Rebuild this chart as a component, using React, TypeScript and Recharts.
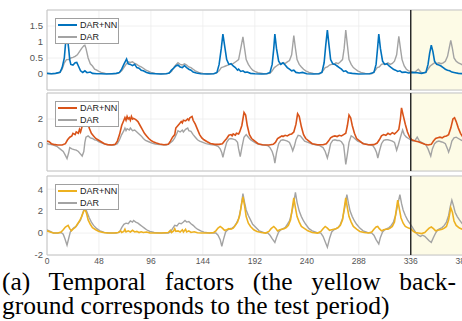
import React from 'react'
import { LineChart, Line, XAxis, YAxis, CartesianGrid, ReferenceLine, ReferenceArea, Legend } from 'recharts'

type Pt = [number, number]

// time axis (half-hour slots, 48 per day)
const timeTicks = [0, 48, 96, 144, 192, 240, 288, 336, 384]
const testStart = 336
const timeEnd = 400
const seriesNames = ['DAR+NN', 'DAR']

// factor 1
const nn1: Pt[] = [
  [0, 0.02], [4, 0.01], [8, 0.02], [12, 0.05], [14, 0.2], [16, 0.5], [17, 0.9], [18.5, 1.25], [20, 0.8], [21, 0.45],
  [22, 0.3], [24, 0.28], [26, 0.35], [27.5, 0.36], [29, 0.25], [31, 0.1], [33, 0.05], [35, 0.1], [37, 0.04], [40, 0.06],
  [42, 0.02], [46, 0.01], [50, 0.01], [55, 0], [60, 0.01], [64, 0.02], [67, 0.05], [69, 0.15], [71, 0.3], [73.5, 0.47],
  [75, 0.32], [77, 0.3], [79, 0.26], [81, 0.3], [83, 0.2], [85, 0.18], [87, 0.12], [89, 0.1], [92, 0.05], [95, 0.02],
  [100, 0.01], [105, 0], [110, 0.01], [113, 0.03], [115, 0.12], [117, 0.18], [119, 0.25], [121, 0.28], [123, 0.22],
  [125, 0.2], [127, 0.26], [129, 0.2], [131, 0.15], [133, 0.12], [135, 0.06], [138, 0.03], [142, 0.01], [148, 0],
  [154, 0.01], [157, 0.05], [159, 0.3], [161, 0.8], [162.5, 1.25], [164, 0.9], [166, 0.45], [168, 0.3], [170, 0.32],
  [172, 0.25], [174, 0.2], [176, 0.12], [177, 0.15], [179, 0.08], [181, 0.1], [183, 0.05], [185, 0.06], [188, 0.02],
  [192, 0.01], [198, 0], [203, 0.01], [206, 0.05], [208, 0.3], [209.5, 0.8], [210.5, 1.25], [212, 0.8], [214, 0.4],
  [216, 0.3], [218, 0.35], [220, 0.28], [222, 0.2], [224, 0.15], [226, 0.1], [228, 0.12], [230, 0.05], [233, 0.03],
  [236, 0.05], [240, 0.01], [246, 0], [251, 0.01], [254, 0.05], [256, 0.35], [257.5, 0.9], [259, 1.37], [260.5, 0.9],
  [262, 0.45], [264, 0.32], [266, 0.3], [268, 0.25], [270, 0.2], [272, 0.15], [274, 0.08], [276, 0.1], [278, 0.04],
  [282, 0.02], [288, 0], [298, 0.01], [302, 0.05], [304, 0.3], [305.5, 0.85], [306.5, 1.25], [308, 0.8], [310, 0.4],
  [312, 0.3], [314, 0.32], [316, 0.25], [318, 0.2], [320, 0.15], [322, 0.12], [324, 0.08], [326, 0.1], [328, 0.05],
  [331, 0.06], [334, 0.03], [338, 0.05], [342, 0.04], [346, 0.02], [350, 0.05], [352, 0.3], [353.5, 0.65], [355, 0.9],
  [356.5, 0.7], [358, 0.4], [360, 0.3], [362, 0.28], [364, 0.25], [366, 0.2], [368, 0.15], [370, 0.12], [372, 0.1],
  [374, 0.06], [377, 0.04], [380, 0.02], [385, 0.01], [392, 0], [400, 0],
]
const dar1: Pt[] = [
  [0, 0.02], [4, 0.01], [8, 0.02], [12, 0.05], [14, 0.15], [16, 0.35], [18, 0.45], [20, 0.45], [22, 0.5], [24, 0.52],
  [26, 0.55], [28, 0.6], [30, 0.7], [32, 0.8], [34, 0.88], [35, 0.9], [36, 0.8], [38, 0.5], [40, 0.32], [42, 0.25],
  [44, 0.15], [46, 0.12], [48, 0.08], [50, 0.05], [54, 0.02], [60, 0.01], [66, 0.02], [69, 0.1], [71, 0.2], [73, 0.3],
  [75, 0.38], [77, 0.36], [79, 0.38], [81, 0.33], [83, 0.3], [85, 0.25], [87, 0.22], [89, 0.18], [91, 0.13], [93, 0.1],
  [96, 0.05], [100, 0.02], [106, 0.01], [112, 0.02], [115, 0.08], [117, 0.2], [119, 0.28], [121, 0.35], [123, 0.3],
  [125, 0.28], [127, 0.32], [129, 0.28], [131, 0.22], [133, 0.2], [135, 0.15], [137, 0.1], [140, 0.05], [144, 0.02],
  [150, 0.01], [156, 0.02], [159, 0.1], [161, 0.2], [163, 0.22], [165, 0.25], [167, 0.28], [169, 0.3], [171, 0.3],
  [173, 0.35], [175, 0.4], [177, 0.45], [179, 0.8], [181, 1.16], [182.5, 0.8], [184, 0.45], [186, 0.3], [188, 0.2],
  [190, 0.12], [192, 0.08], [195, 0.04], [200, 0.01], [206, 0.02], [208, 0.1], [210, 0.2], [212, 0.25], [214, 0.3],
  [216, 0.32], [218, 0.35], [220, 0.33], [222, 0.38], [224, 0.42], [226, 0.6], [228, 1.2], [229.5, 0.8], [231, 0.45],
  [233, 0.3], [235, 0.22], [237, 0.15], [239, 0.1], [242, 0.05], [246, 0.02], [252, 0.01], [255, 0.1], [257, 0.2],
  [259, 0.22], [261, 0.28], [263, 0.3], [265, 0.3], [267, 0.35], [269, 0.32], [271, 0.38], [273, 0.45], [274.5, 0.8],
  [276, 1.37], [277.5, 0.9], [279, 0.45], [281, 0.3], [283, 0.2], [285, 0.15], [287, 0.1], [290, 0.05], [294, 0.02],
  [300, 0.01], [303, 0.1], [305, 0.2], [307, 0.22], [309, 0.3], [311, 0.32], [313, 0.3], [315, 0.35], [317, 0.3],
  [319, 0.33], [321, 0.4], [323, 0.6], [325, 1.18], [326.5, 0.8], [328, 0.45], [330, 0.25], [332, 0.15], [334, 0.1],
  [336, 0.08], [338, 0.05], [340, 0.06], [343, 0.15], [346, 0.04], [350, 0.05], [352, 0.15], [354, 0.25], [356, 0.3],
  [358, 0.35], [360, 0.32], [362, 0.35], [364, 0.32], [366, 0.35], [368, 0.4], [370, 0.55], [371.5, 0.8], [373, 1.05],
  [374.5, 0.8], [376, 0.5], [378, 0.4], [380, 0.35], [383, 0.3], [387, 0.2], [392, 0.1], [400, 0.05],
]

// factor 2
const nn2: Pt[] = [
  [0, 0.3], [2, 0.25], [4, 0.1], [6, 0.05], [10, 0], [14, 0], [17, 0.1], [19, 0.4], [21, 0.6], [23, 0.7], [24, 0.9],
  [26, 0.8], [27, 1.0], [29, 0.9], [30, 1.2], [31, 1.0], [32, 1.3], [34, 1.8], [35.5, 2.4], [37, 1.9], [39, 1.3],
  [41, 0.9], [43, 0.7], [45, 0.5], [47, 0.4], [50, 0.25], [53, 0.1], [56, 0.03], [60, 0], [63, 0.05], [65, 0.3],
  [67, 0.8], [69, 1.5], [71, 1.9], [72, 2.1], [73, 1.9], [74, 2.2], [75, 2.0], [76, 2.1], [77, 1.9], [78, 2.2], [79, 2.0],
  [80, 2.05], [82, 1.95], [84, 1.8], [86, 1.5], [88, 1.2], [90, 0.9], [92, 0.7], [94, 0.5], [96, 0.35], [98, 0.25],
  [101, 0.15], [104, 0.08], [108, 0.02], [112, 0.05], [114, 0.3], [116, 0.6], [118, 0.8], [119, 1.3], [121, 1.5],
  [122, 1.6], [124, 1.8], [125, 1.7], [126, 1.9], [128, 1.85], [130, 2.0], [131, 1.9], [132, 2.1], [134, 2.2], [135, 1.9],
  [137, 1.6], [139, 1.2], [141, 0.8], [143, 0.55], [145, 0.4], [148, 0.25], [151, 0.12], [155, 0.05], [159, 0.05],
  [162, 0.1], [164, 0.3], [166, 0.5], [168, 0.75], [170, 0.8], [171, 0.7], [172, 0.85], [174, 0.75], [175, 0.9],
  [177, 0.85], [178, 1.0], [180, 1.5], [182, 2.5], [183.5, 2.3], [185, 1.5], [187, 0.8], [189, 0.5], [192, 0.3],
  [195, 0.1], [199, 0.02], [205, 0], [209, 0.05], [211, 0.2], [213, 0.5], [215, 0.6], [217, 0.7], [218, 0.65], [220, 0.75],
  [222, 0.7], [224, 0.8], [226, 0.85], [228, 1.0], [230, 1.6], [231.5, 2.4], [233, 2.2], [235, 1.4], [237, 0.8],
  [239, 0.5], [242, 0.3], [245, 0.1], [250, 0.02], [255, 0.02], [258, 0.1], [260, 0.3], [262, 0.55], [264, 0.65],
  [266, 0.7], [268, 0.65], [270, 0.75], [272, 0.7], [274, 0.8], [276, 0.9], [277.5, 1.5], [279, 2.3], [280.5, 2.1],
  [282, 1.5], [284, 0.9], [286, 0.5], [289, 0.3], [292, 0.1], [297, 0.02], [302, 0.03], [305, 0.15], [307, 0.4],
  [309, 0.7], [311, 0.8], [313, 0.75], [315, 0.9], [317, 0.8], [319, 0.95], [321, 0.85], [323, 1.0], [325, 1.2],
  [326.5, 2.0], [327.5, 2.85], [329, 2.3], [331, 1.6], [333, 1.0], [335, 0.6], [337, 0.4], [340, 0.3], [343, 0.25],
  [346, 0.15], [349, 0.05], [352, 0], [355, 0.05], [357, 0.3], [359, 0.5], [361, 0.55], [363, 0.6], [365, 0.55],
  [367, 0.65], [369, 0.7], [371, 0.8], [373, 1.3], [375, 2.0], [376.5, 2.1], [378, 1.8], [380, 1.3], [382, 0.9],
  [385, 0.5], [390, 0.25], [395, 0.1], [400, 0.05],
]
const dar2: Pt[] = [
  [0, 0.1], [3, 0.05], [6, 0], [9, -0.1], [12, -0.3], [15, -0.5], [17, -0.8], [18.5, -1.05], [20, -0.6], [21, -0.2],
  [23, -0.3], [25, -0.35], [27, -0.4], [29, -0.5], [31, -0.7], [32.5, -0.85], [34, -0.5], [35, 0.2], [36, 0.6],
  [38, 0.7], [40, 0.55], [42, 0.5], [44, 0.4], [46, 0.35], [48, 0.25], [51, 0.15], [54, 0.05], [58, 0], [62, 0],
  [65, 0.1], [67, 0.4], [69, 0.8], [71, 1.1], [72, 1.3], [73, 1.1], [74, 1.25], [76, 1.15], [77, 1.3], [79, 1.1],
  [81, 1.15], [83, 1.0], [85, 0.85], [87, 0.7], [89, 0.5], [91, 0.35], [94, 0.25], [97, 0.15], [100, 0.08], [104, 0.03],
  [110, 0], [113, 0.1], [116, 0.3], [118, 0.55], [120, 0.9], [121, 1.1], [123, 1.0], [125, 1.15], [126, 1.0],
  [128, 1.2], [130, 1.3], [131, 1.1], [133, 1.05], [135, 0.8], [137, 0.6], [139, 0.4], [141, 0.3], [144, 0.2],
  [147, 0.1], [151, 0.03], [155, 0], [158, -0.1], [160, -0.3], [161.5, -0.6], [162.5, -0.95], [164, -0.4], [166, 0.2],
  [168, 0.45], [170, 0.5], [172, 0.45], [174, 0.4], [176, 0.2], [177, -0.3], [178.5, -0.9], [180, -0.2], [182, 0.6],
  [184, 0.8], [186, 0.6], [188, 0.4], [190, 0.3], [193, 0.15], [196, 0.05], [200, 0], [204, -0.05], [206, -0.2],
  [208, -0.5], [209.5, -0.9], [210.5, -1.4], [212, -0.6], [214, 0.1], [216, 0.35], [218, 0.4], [220, 0.35], [222, 0.3],
  [224, 0.2], [226, -0.2], [227, -0.45], [228.5, -0.1], [230, 0.4], [232, 0.75], [234, 0.7], [236, 0.5], [238, 0.3],
  [241, 0.2], [244, 0.1], [248, 0.02], [252, -0.05], [255, -0.2], [257, -0.5], [259, -1.0], [260.5, -0.5], [262, 0.1],
  [264, 0.35], [266, 0.4], [268, 0.35], [270, 0.35], [272, 0.25], [274, 0], [275, -0.7], [276, -1.5], [277.5, -0.7],
  [279, 0.2], [281, 0.7], [283, 0.6], [285, 0.45], [287, 0.3], [290, 0.2], [293, 0.1], [297, 0.02], [301, -0.05],
  [303, -0.3], [304.5, -0.6], [305.6, -1.0], [307, -0.5], [309, 0.1], [311, 0.35], [313, 0.4], [315, 0.4], [317, 0.35],
  [319, 0.3], [321, 0.2], [322, -0.1], [323, -0.4], [324.5, 0], [326.5, 0.6], [328.5, 1.15], [330, 0.8], [332, 0.6],
  [334, 0.5], [336, 0.4], [338, 0.3], [340, 0.35], [342, 0.6], [344, 0.3], [346, 0.2], [348, 0.1], [350, 0],
  [352, -0.3], [354.5, -0.85], [356, -0.3], [358, 0.1], [360, 0.25], [362, 0.3], [364, 0.25], [366, 0.2], [368, 0.1],
  [370, -0.3], [371, -0.55], [372.5, -0.2], [374, 0.3], [376, 0.55], [378, 0.6], [380, 0.5], [383, 0.35], [386, 0.25],
  [390, 0.15], [395, 0.05], [400, 0],
]

// factor 3
const nn3: Pt[] = [
  [0, 0.2], [3, 0.1], [6, 0], [10, 0], [13, 0.1], [15, 0.3], [17, 0.55], [19.5, 0.7], [21, 0.4], [22.5, 0.2], [24, 0.35],
  [26, 0.5], [28, 0.8], [30, 1.1], [32, 1.5], [33.5, 1.9], [35, 2.2], [36.5, 1.8], [38, 1.2], [40, 0.8], [42, 0.5],
  [45, 0.3], [48, 0.15], [52, 0.05], [56, 0], [62, 0], [66, 0.05], [68, 0.2], [69, 0.05], [71, 0.15], [72, 0.35],
  [73, 0.1], [75, 0.2], [77, 0.1], [79, 0.25], [81, 0.1], [83, 0.15], [85, 0.05], [87, 0.12], [89, 0.05], [92, 0.1],
  [95, 0.02], [100, 0], [106, 0], [112, 0.05], [114, 0.25], [115, 0.05], [117, 0.2], [118, 0.4], [119, 0.15], [121, 0.2],
  [123, 0.1], [125, 0.3], [126, 0.1], [128, 0.35], [129, 0.1], [131, 0.2], [133, 0.05], [136, 0.12], [139, 0.03],
  [143, 0], [150, 0], [154, 0.05], [156, 0.2], [158, 0.45], [160, 0.6], [162, 0.45], [164, 0.25], [166, 0.3], [168, 0.4],
  [170, 0.35], [172, 0.45], [174, 0.7], [176, 1.0], [178, 1.6], [179.5, 2.5], [181, 3.3], [182.5, 2.5], [184, 1.5],
  [186, 0.9], [188, 0.6], [191, 0.3], [194, 0.15], [198, 0.05], [202, 0], [205, 0.15], [207, 0.4], [209.5, 0.6],
  [211.5, 0.4], [213, 0.2], [215, 0.3], [217, 0.35], [219, 0.4], [221, 0.5], [223, 0.7], [225, 1.2], [226.5, 2.2],
  [228, 3.2], [229.5, 2.3], [231, 1.5], [233, 1.0], [235, 0.6], [238, 0.4], [241, 0.2], [245, 0.05], [250, 0],
  [253, 0.15], [255, 0.4], [257, 0.6], [259, 0.45], [261, 0.25], [263, 0.3], [265, 0.35], [267, 0.4], [269, 0.5],
  [271, 0.7], [273, 1.2], [274.5, 2.2], [276, 3.2], [277.5, 2.3], [279, 1.5], [281, 1.0], [283, 0.6], [286, 0.35],
  [289, 0.15], [293, 0.05], [297, 0], [300, 0.1], [302, 0.35], [304, 0.55], [305.5, 0.6], [307, 0.4], [309, 0.2],
  [311, 0.3], [313, 0.35], [315, 0.35], [317, 0.45], [319, 0.6], [321, 1.0], [322.5, 2.0], [324, 3.0], [325.5, 2.2],
  [327, 1.4], [329, 0.9], [331, 0.6], [334, 0.45], [336, 0.4], [338, 0.2], [340, 0.05], [343, 0], [346, -0.05],
  [349, 0.05], [351, 0.25], [353, 0.45], [355, 0.55], [357, 0.4], [359, 0.2], [361, 0.25], [363, 0.3], [365, 0.35],
  [367, 0.45], [369, 0.6], [371, 1.2], [373, 2.3], [374.5, 1.9], [376, 1.1], [378, 0.7], [381, 0.45], [385, 0.3],
  [390, 0.15], [395, 0.05], [400, 0],
]
const dar3: Pt[] = [
  [0, 0.3], [3, 0.15], [6, 0], [10, 0], [13, 0.05], [15, -0.1], [16.5, -0.5], [18.5, -1.1], [20, -0.5], [21.5, 0.1],
  [23, 0.3], [25, 0.5], [27, 0.6], [29, 0.9], [31, 1.2], [33, 1.8], [35, 2.4], [37, 1.9], [39, 1.4], [41, 1.0], [43, 0.7],
  [46, 0.4], [49, 0.2], [53, 0.05], [58, 0], [64, 0], [67, 0.1], [69, 0.5], [71, 0.8], [73, 0.9], [75, 0.85], [77, 1.1],
  [79, 1.0], [80, 1.15], [82, 1.0], [84, 0.9], [86, 0.75], [88, 0.6], [90, 0.45], [92, 0.3], [95, 0.15], [99, 0.05],
  [104, 0], [112, 0], [114, 0.1], [116, 0.4], [118, 0.7], [120, 0.65], [122, 0.9], [124, 0.85], [126, 1.0], [127.5, 1.15],
  [129, 1.0], [131, 1.05], [133, 0.85], [135, 0.7], [137, 0.5], [139, 0.35], [142, 0.2], [145, 0.08], [150, 0],
  [156, 0], [158, -0.2], [160, -0.6], [161.5, -1.2], [163, -0.6], [165, 0.1], [167, 0.3], [169, 0.4], [171, 0.45],
  [173, 0.6], [175, 0.9], [177, 1.3], [179, 2.2], [181, 3.6], [182.5, 2.8], [184, 2.1], [186, 1.6], [188, 1.2], [190, 0.8],
  [193, 0.5], [196, 0.2], [200, 0.05], [204, 0], [206, -0.2], [208, -0.5], [210.5, -0.85], [212, -0.4], [214, 0.1],
  [216, 0.3], [218, 0.4], [220, 0.5], [222, 0.8], [224, 1.1], [226, 1.8], [228, 2.8], [229.5, 3.7], [231, 2.8],
  [233, 2.0], [235, 1.5], [237, 1.1], [239, 0.8], [242, 0.4], [245, 0.2], [249, 0.05], [253, 0], [255, -0.3],
  [257, -0.8], [259, -1.3], [261, -0.5], [263, 0.1], [265, 0.3], [267, 0.4], [269, 0.5], [271, 0.8], [273, 1.3],
  [275, 2.3], [277, 3.5], [278.5, 2.7], [280, 2.0], [282, 1.5], [284, 1.1], [286, 0.8], [289, 0.45], [292, 0.2],
  [296, 0.05], [300, 0], [302, -0.2], [304, -0.6], [306.5, -1.0], [308, -0.4], [310, 0.1], [312, 0.3], [314, 0.4],
  [316, 0.5], [318, 0.7], [320, 1.0], [322, 1.6], [324, 2.6], [326, 3.5], [327.5, 2.7], [329, 2.1], [331, 1.6],
  [333, 1.2], [335, 0.9], [337, 0.6], [339, 0.3], [341, 0], [343, -0.2], [345, -0.3], [347, -0.2], [349, -0.3],
  [351, -0.5], [353, -0.7], [355, -0.85], [357, -0.4], [359, 0], [361, 0.3], [363, 0.4], [365, 0.5], [367, 0.7],
  [369, 1.0], [371, 1.6], [372.5, 2.4], [374, 3.0], [375.5, 2.5], [377, 1.9], [379, 1.5], [381, 1.2], [384, 0.8],
  [388, 0.5], [393, 0.25], [400, 0.1],
]

const GREY = '#a3a3a3'
const AXIS_FONT = "'Liberation Sans', Arial, sans-serif"

const rows = (pts: Pt[]) => pts.map(([t, v]) => ({ t, v }))

function makeLegend() {
  return ({ payload }: any) => {
    const items = [...(payload || [])].sort(
      (a: any, b: any) => seriesNames.indexOf(a.value) - seriesNames.indexOf(b.value)
    )
    return (
      <div style={{ width: 62, height: 24, border: '1px solid #a0a0a0', background: '#fff', fontFamily: AXIS_FONT, fontSize: 9, color: '#222' }}>
        {items.map((it: any) => (
          <div key={it.value} style={{ display: 'flex', alignItems: 'center', height: 12 }}>
            <span style={{ display: 'inline-block', width: 19, marginLeft: 2, borderTop: `2px solid ${it.color}` }} />
            <span style={{ marginLeft: 3, lineHeight: '12px' }}>{it.value}</span>
          </div>
        ))}
      </div>
    )
  }
}

interface PanelProps {
  top: number
  height: number
  domain: [number, number]
  yTicks: number[]
  nn: Pt[]
  dar: Pt[]
  color: string
  showX?: boolean
}

function Panel({ top, height, domain, yTicks, nn, dar, color, showX }: PanelProps) {
  return (
    <div style={{ position: 'absolute', left: 0, top }}>
      <LineChart width={480} height={height} margin={{ top: 10, right: 0, bottom: showX ? 0 : 2, left: 0 }}>
        <ReferenceArea x1={testStart} x2={timeEnd} y1={domain[0]} y2={domain[1]} fill="#fdfbe6" fillOpacity={1} stroke="none" />
        <CartesianGrid stroke="#ececec" strokeWidth={0.8} />
        <XAxis
          dataKey="t"
          type="number"
          domain={[0, timeEnd]}
          ticks={timeTicks}
          hide={!showX}
          height={20}
          axisLine={false}
          tickLine={false}
          tickSize={0}
          tickMargin={3}
          tick={{ fontSize: 8.5, fill: '#555', fontFamily: AXIS_FONT }}
          allowDataOverflow
        />
        <YAxis
          type="number"
          domain={domain}
          ticks={yTicks}
          width={47}
          axisLine={false}
          tickLine={false}
          tickSize={0}
          tickMargin={4}
          tick={{ fontSize: 9.5, fill: '#555', fontFamily: AXIS_FONT }}
          allowDataOverflow
        />
        <ReferenceLine y={domain[1]} stroke="#c4c4c4" />
        <ReferenceLine y={domain[0]} stroke="#c4c4c4" />
        <ReferenceLine x={0} stroke="#c4c4c4" />
        <Line data={rows(dar)} dataKey="v" name="DAR" stroke={GREY} strokeWidth={1.4} dot={false} isAnimationActive={false} />
        <Line data={rows(nn)} dataKey="v" name="DAR+NN" stroke={color} strokeWidth={1.6} dot={false} isAnimationActive={false} />
        <ReferenceLine x={testStart} stroke="#2a2a2a" strokeWidth={1.5} />
        <Legend
          layout="vertical"
          align="center"
          verticalAlign="middle"
          content={makeLegend()}
          wrapperStyle={{ position: 'absolute', left: 55, top: 18, width: 'auto', height: 'auto' }}
        />
      </LineChart>
    </div>
  )
}

export default function App() {
  return (
    <div style={{ position: 'absolute', left: 0, top: 0, width: 462, height: 321, overflow: 'hidden', background: '#fff' }}>
      <Panel top={0} height={92} domain={[-0.5, 2]} yTicks={[0, 0.5, 1, 1.5]} nn={nn1} dar={dar1} color="#0072BD" />
      <Panel top={83} height={90} domain={[-2, 4]} yTicks={[0, 2]} nn={nn2} dar={dar2} color="#D95319" />
      <Panel top={166} height={109} domain={[-2, 5.2]} yTicks={[-2, 0, 2, 4]} nn={nn3} dar={dar3} color="#EDB120" showX />
      <div
        style={{
          position: 'absolute', left: 2, top: 270, width: 454,
          fontFamily: "'Liberation Serif', 'Times New Roman', serif", fontSize: 25.5, lineHeight: '24px', color: '#000',
        }}
      >
        <div style={{ textAlign: 'justify', textAlignLast: 'justify', whiteSpace: 'nowrap' }}>(a) Temporal factors (the yellow back-</div>
        <div style={{ whiteSpace: 'nowrap' }}>ground corresponds to the test period)</div>
      </div>
    </div>
  )
}
